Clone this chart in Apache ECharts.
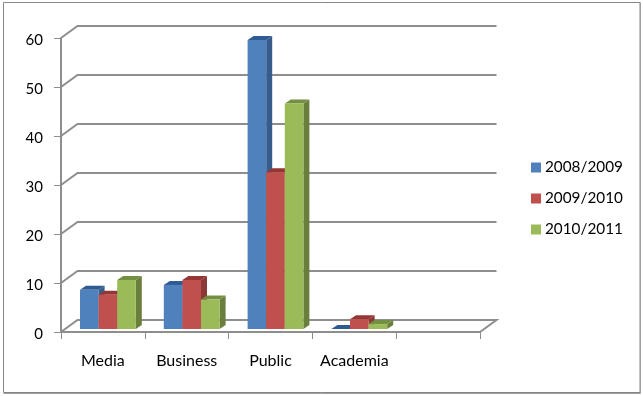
<!DOCTYPE html>
<html><head><meta charset="utf-8">
<style>html,body{margin:0;padding:0;background:#fff}#c{width:643px;height:396px}</style>
<script src="https://cdn.jsdelivr.net/npm/echarts@6/dist/echarts.min.js"></script>
</head><body><div id="c"></div>
<script>
const categories = ['Media','Business','Public','Academia',''];
const yTicks = [0,10,20,30,40,50,60];
const seriesNames = ['2008/2009','2009/2010','2010/2011'];
const values0809 = [8,9,59,0];
const values0910 = [7,10,32,2];
const values1011 = [10,6,46,1];
const palette = [
  {front:'#4F81BD', side:'#385D8A', top:'#2F5A92'},
  {front:'#C0504D', side:'#8C3836', top:'#933634'},
  {front:'#9BBB59', side:'#6A7F3C', top:'#748F41'}
];
const FONT = 'Lato';
const WALL = {dx:16.5, dy:-12};
const BAR = {ox:5, oy:-3, dx:6, dy:-4, ratio:0.222};
const chart = echarts.init(document.getElementById('c'), null, {renderer:'canvas'});

function wallItem(params, api){
  const p = api.coord([0, api.value(1)]);
  const cs = params.coordSys;
  const y = Math.round(p[1]);
  const x0 = cs.x, x1 = cs.x + cs.width;
  const isFloor = api.value(1) === 0;
  const pts = isFloor
    ? [[x0,y],[x0+WALL.dx,y+WALL.dy],[x1+WALL.dx,y+WALL.dy],[x1,y]]
    : [[x0,y],[x0+WALL.dx,y+WALL.dy],[x1+WALL.dx,y+WALL.dy]];
  return {type:'polyline', shape:{points:pts}, silent:true,
    style:{fill:null, stroke:'#8E8E8E', lineWidth:2}};
}
function barItem(i){
  return function(params, api){
    const cat = api.value(0), v = api.value(1);
    const c0 = api.coord([cat, 0]), c1 = api.coord([cat, v]);
    const w = api.size([1,0])[0] * BAR.ratio;
    const xL = c0[0] + BAR.ox + (i-1.5)*w, xR = xL + w;
    const yB = c0[1] + BAR.oy, yT = c1[1] + BAR.oy;
    const col = palette[i];
    const d = BAR;
    return {type:'group', children:[
      {type:'polygon', shape:{points:[[xR,yB],[xR+d.dx,yB+d.dy],[xR+d.dx,yT+d.dy],[xR,yT]]}, style:{fill:col.side}},
      {type:'polygon', shape:{points:[[xL,yT],[xR,yT],[xR+d.dx,yT+d.dy],[xL+d.dx,yT+d.dy]]}, style:{fill:col.top}},
      {type:'rect', shape:{x:xL,y:yT,width:w,height:yB-yT}, style:{fill:col.front}}
    ]};
  };
}
const barData = [values0809, values0910, values1011];
chart.setOption({
  animation:false,
  backgroundColor:'#fff',
  graphic:[
    {type:'rect', z:-1, silent:true,
     shape:{x:3.5,y:2.5,width:636.5,height:390},
     style:{fill:'#fff', stroke:'#868686', lineWidth:1}},
    {type:'polyline', z:-1, silent:true,
     shape:{points:[[640.5,2.5],[640.5,393.5],[3.5,393.5]]},
     style:{fill:null, stroke:'#A0A0A0', lineWidth:1}}
  ],
  grid:{left:61, right:163, top:38, bottom:64},
  legend:{orient:'vertical', left:531, top:159, itemWidth:10, itemHeight:10, itemGap:14,
    icon:'rect', selectedMode:false, data:seriesNames, padding:0, itemStyle:{borderWidth:0},
    textStyle:{fontFamily:FONT, fontSize:15.3, lineHeight:17, color:'#000', padding:[0,0,0,-1]}},
  xAxis:{type:'category', data:categories,
    axisLine:{show:true, lineStyle:{color:'#8E8E8E', width:2}},
    axisTick:{show:true, length:7, lineStyle:{color:'#8E8E8E', width:1}},
    axisLabel:{fontFamily:FONT, fontSize:16, color:'#000', margin:21, interval:0, hideOverlap:false},
    splitLine:{show:false}},
  yAxis:{type:'value', min:0, max:60, interval:10,
    axisLine:{show:true, lineStyle:{color:'#8E8E8E', width:2}},
    axisTick:{show:true, length:7, lineStyle:{color:'#8E8E8E', width:1}},
    axisLabel:{fontFamily:FONT, fontSize:15, color:'#000', margin:18, verticalAlign:'top', lineHeight:4},
    splitLine:{show:false}},
  series:[
    {type:'custom', name:'wall', z:1, clip:false, silent:true,
     data:yTicks.map(v=>[0,v]), encode:{x:0,y:1}, renderItem:wallItem},
    ...seriesNames.map((n,i)=>({
      type:'custom', name:n, z:3+i, clip:false,
      itemStyle:{color:palette[i].front},
      data:barData[i].map((v,k)=>[k,v]), encode:{x:0,y:1},
      renderItem:barItem(i)
    }))
  ]
});
</script></body></html>
